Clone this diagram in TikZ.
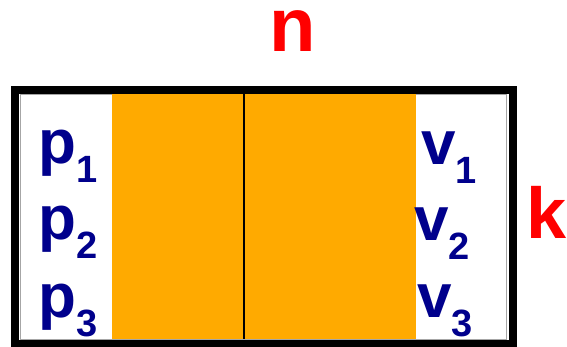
\documentclass[tikz,border=0pt]{standalone}
\usepackage{fontspec}
\setmainfont{Liberation Sans}
\usetikzlibrary{positioning}
\definecolor{cellorange}{RGB}{255, 170, 0}
\definecolor{idxblue}{RGB}{0, 0, 140}
\definecolor{dimred}{RGB}{255, 0, 0}
\newcommand{\lowidx}[1]{\raisebox{-19pt}{\fontsize{38}{38}\selectfont #1}}

\begin{document}
\begin{tikzpicture}[
    x=1pt, y=-1pt,
    cell/.style={rectangle, draw=none, fill=cellorange, inner sep=0pt, outer sep=0pt, anchor=north west},
    idx/.style={font={\fontsize{62}{62}\selectfont\bfseries}, text=idxblue, inner sep=0pt, anchor=base west},
    dim/.style={font={\fontsize{76}{76}\selectfont\bfseries}, text=dimred, inner sep=0pt},
    frame/.style={draw=black, line width=8pt}
]
\useasboundingbox (0,0) rectangle (567,346);

% ═══════════════════════════════════════════════
% Matrix body
% ═══════════════════════════════════════════════
\node[rectangle, draw=gray!70, line width=0.8pt, fill=white, inner sep=0pt, anchor=north west,
      minimum width=486pt, minimum height=245pt] (inner) at (20,94) {};
\node[cell, minimum width=132pt, minimum height=245pt] (cella) at (112,94) {};
\node[cell, minimum width=172pt, minimum height=245pt, right=0pt of cella] (cellb) {};
\draw[line width=2pt] (cella.north east) -- (cella.south east);
\draw[frame] (15,90) rectangle (513,344);

% ═══════════════════════════════════════════════
% Row labels
% ═══════════════════════════════════════════════
\node[idx] (p1) at (38,163) {p\lowidx{1}};
\node[idx] (p2) at (38,239) {p\lowidx{2}};
\node[idx] (p3) at (38,317) {p\lowidx{3}};
\node[idx] (v1) at (421,164) {v\lowidx{1}};
\node[idx] (v2) at (414,240) {v\lowidx{2}};
\node[idx] (v3) at (417,317) {v\lowidx{3}};

% ═══════════════════════════════════════════════
% Dimensions
% ═══════════════════════════════════════════════
\node[dim, anchor=base] (n) at (293,51) {n};
\node[dim, anchor=base west, font={\fontsize{72}{72}\selectfont\bfseries}] (k) at (526,238) {k};

\end{tikzpicture}
\end{document}
